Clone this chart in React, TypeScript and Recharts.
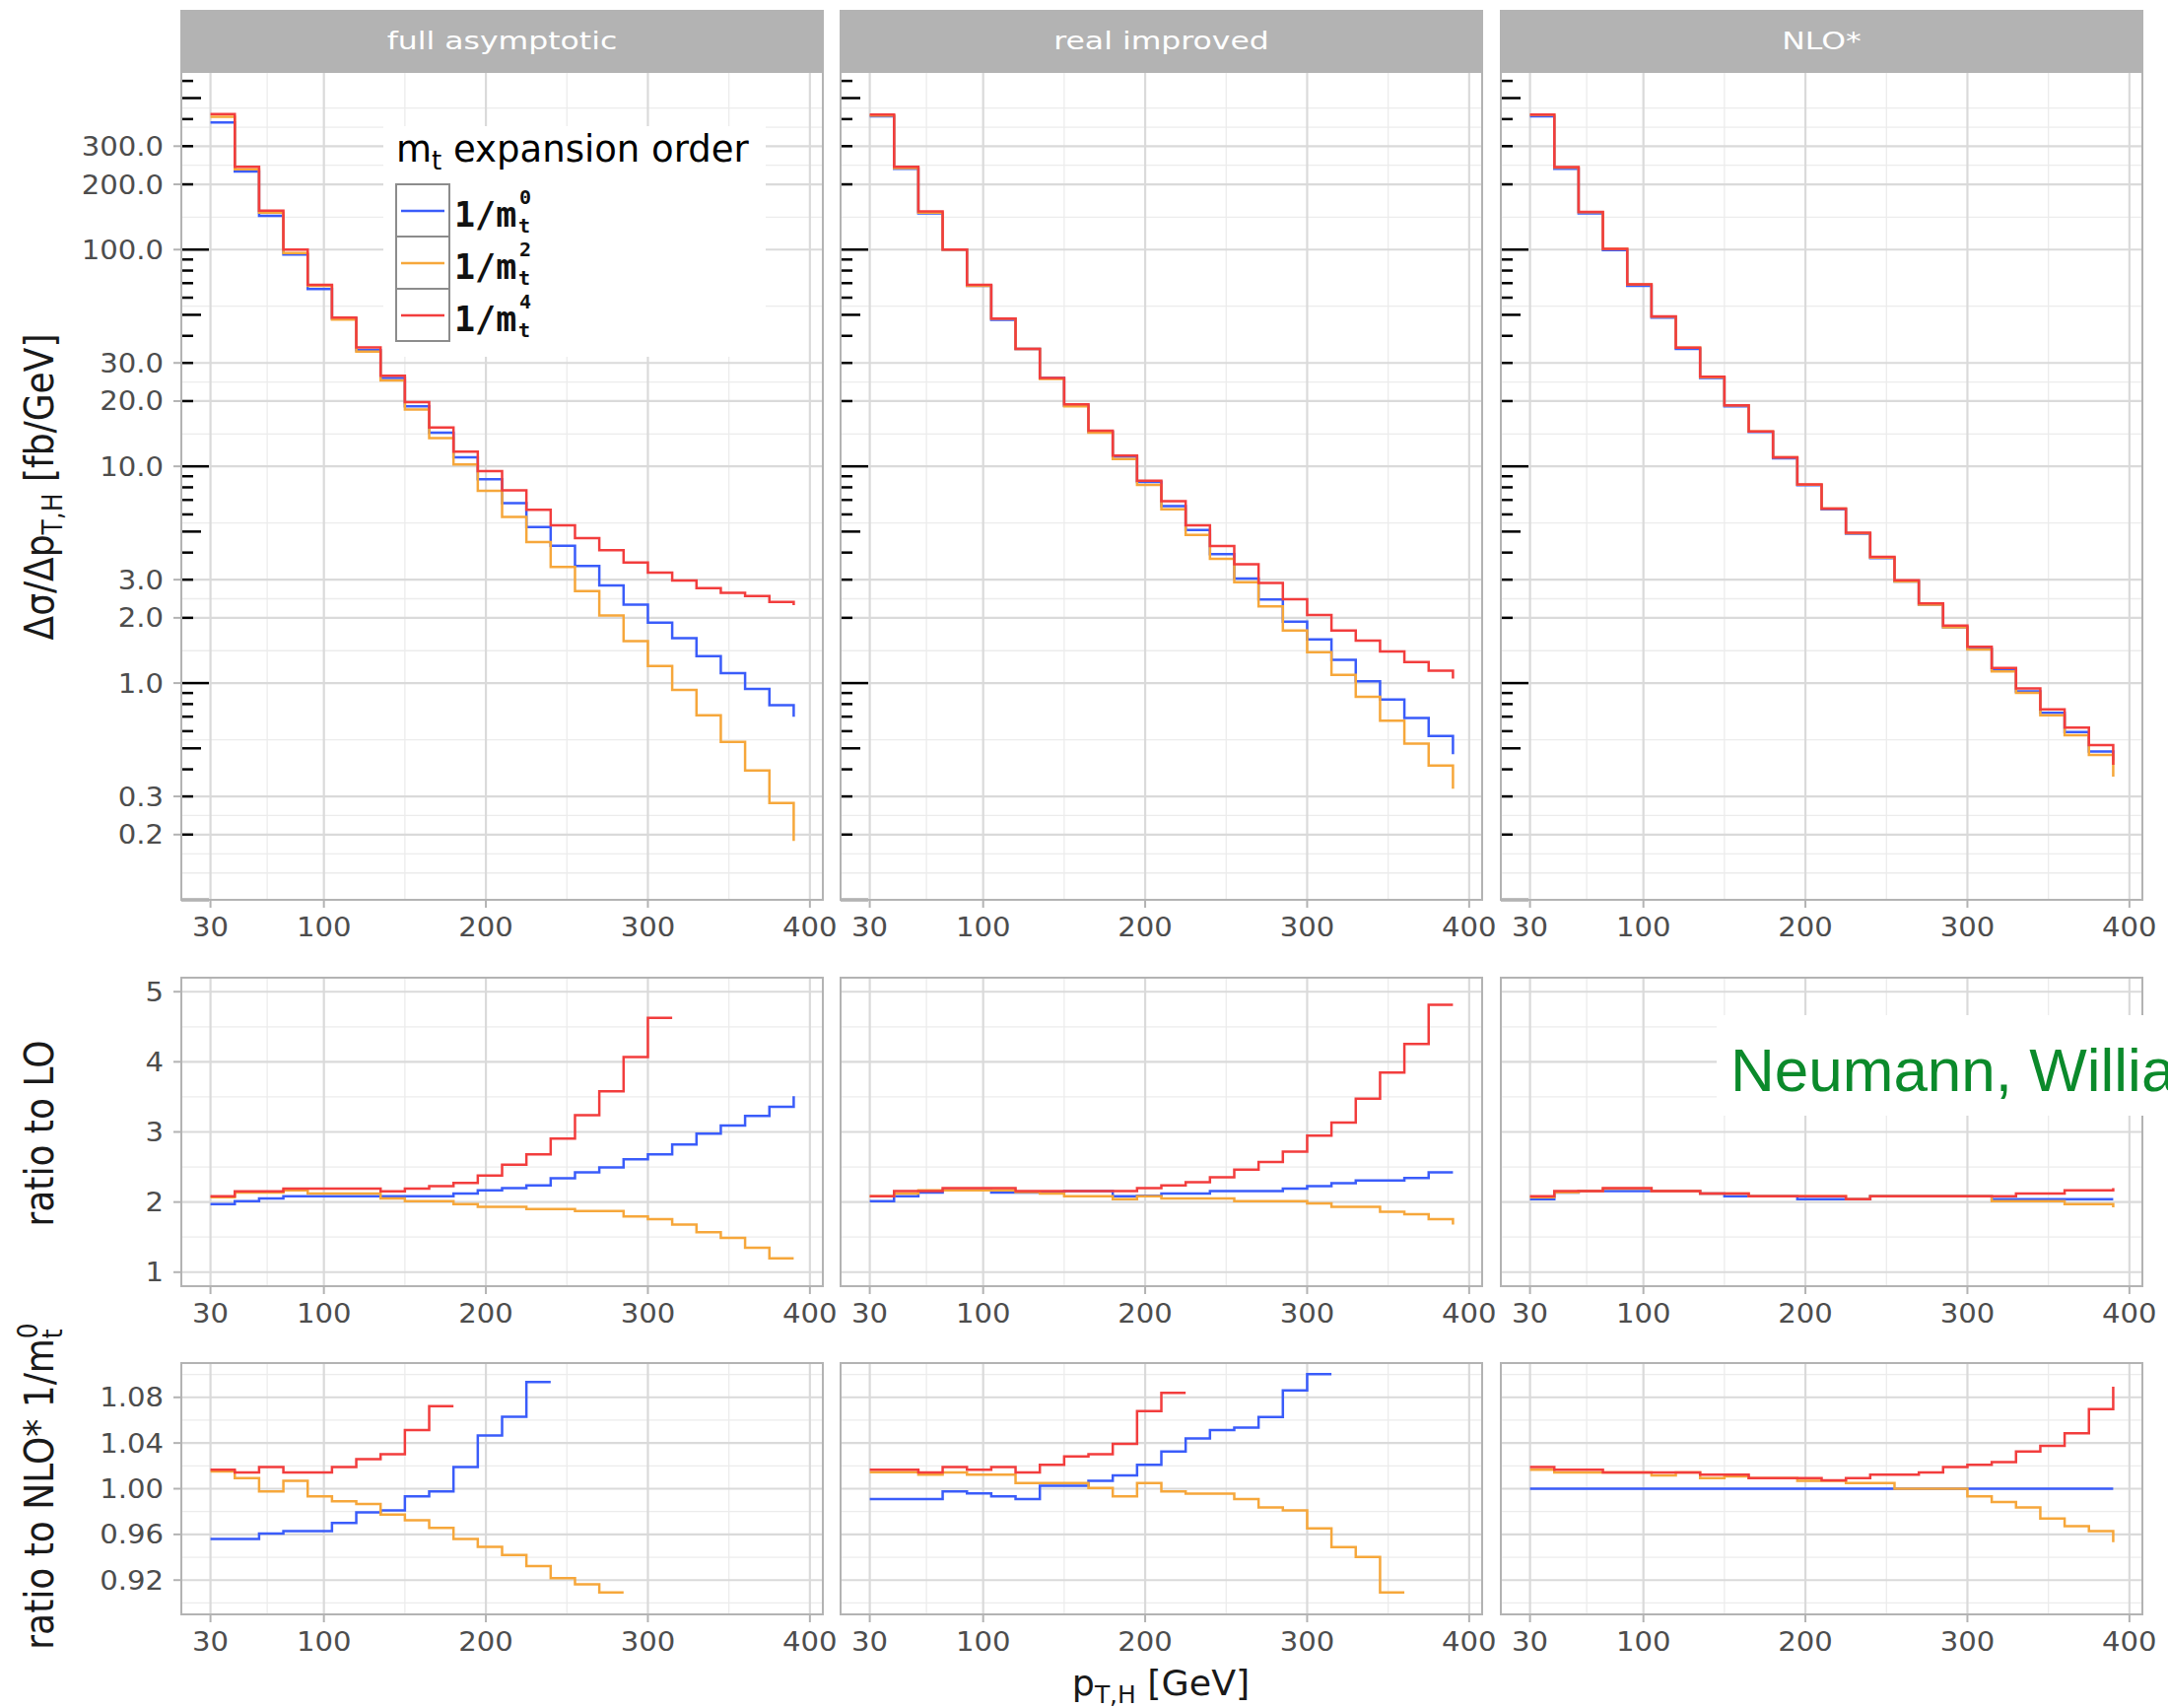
import React from 'react';
import { LineChart, Line, XAxis, YAxis, CartesianGrid } from 'recharts';

// lower bin edges of p_T,H [GeV]
const ptBins = [30, 45, 60, 75, 90, 105, 120, 135, 150, 165, 180, 195, 210, 225, 240, 255, 270, 285, 300, 315, 330, 345, 360, 375, 390];

const facetNames = ['full asymptotic', 'real improved', 'NLO*'];
const seriesKeys = ['m0', 'm2', 'm4'];
const seriesOrders = ['0', '2', '4'];
const seriesColors: Record<string, string> = { m0: '#3a5cfa', m2: '#f6a73b', m4: '#f23d3d' };

// dσ/dp_T,H [fb/GeV]
const fullM0 = [386, 229, 143, 95, 65.7, 48, 34.4, 25.6, 18.9, 14.3, 11.0, 8.73, 6.77, 5.25, 4.3, 3.47, 2.82, 2.3, 1.9, 1.61, 1.33, 1.11, 0.94, 0.79, 0.7];
const fullM2 = [410, 235, 148, 96.5, 68, 47.5, 33.8, 24.9, 18.3, 13.5, 10.2, 7.7, 5.84, 4.47, 3.43, 2.66, 2.05, 1.56, 1.2, 0.93, 0.71, 0.535, 0.395, 0.28, 0.187];
const fullM4 = [422, 241, 151, 100, 68.8, 48.5, 35.4, 26.2, 19.8, 15.1, 11.7, 9.5, 7.75, 6.3, 5.35, 4.67, 4.1, 3.6, 3.23, 2.97, 2.74, 2.61, 2.52, 2.37, 2.29];
const realM0 = [412, 236, 147, 100, 68, 47.4, 34.8, 25.6, 19, 14.4, 11.1, 8.47, 6.56, 5.09, 3.93, 3.04, 2.43, 1.92, 1.59, 1.28, 1.02, 0.84, 0.69, 0.57, 0.47];
const realM2 = [415, 238, 148, 100, 68, 48, 34.8, 25.3, 18.9, 14.3, 10.8, 8.22, 6.34, 4.83, 3.74, 2.92, 2.26, 1.75, 1.39, 1.09, 0.865, 0.67, 0.526, 0.416, 0.326];
const realM4 = [420, 241, 150, 100, 68.8, 48, 34.8, 25.6, 19.3, 14.6, 11.2, 8.58, 6.9, 5.35, 4.29, 3.53, 2.9, 2.44, 2.06, 1.75, 1.57, 1.4, 1.25, 1.14, 1.05];
const nloM0 = [412, 236, 147, 99.5, 68.1, 48.5, 34.8, 25.6, 18.9, 14.4, 10.9, 8.18, 6.34, 4.89, 3.77, 2.94, 2.3, 1.81, 1.44, 1.146, 0.916, 0.73, 0.594, 0.484, 0.44];
const nloM2 = [419, 239, 149, 100.9, 69.1, 49.1, 35.3, 25.8, 19.1, 14.5, 11.0, 8.24, 6.38, 4.91, 3.79, 2.94, 2.3, 1.81, 1.43, 1.133, 0.901, 0.711, 0.575, 0.466, 0.37];
const nloM4 = [420, 240, 149.4, 100.9, 69.1, 49.2, 35.3, 25.9, 19.1, 14.5, 11.0, 8.26, 6.39, 4.94, 3.82, 2.98, 2.33, 1.84, 1.47, 1.173, 0.946, 0.757, 0.623, 0.518, 0.42];

// ratio to LO
const loFullM0 = [1.971, 2.013, 2.05, 2.083, 2.083, 2.083, 2.083, 2.083, 2.083, 2.083, 2.12, 2.167, 2.2, 2.237, 2.34, 2.424, 2.494, 2.61, 2.68, 2.82, 2.974, 3.09, 3.23, 3.357, 3.51];
const loFullM2 = [2.07, 2.134, 2.134, 2.167, 2.12, 2.12, 2.12, 2.05, 2.013, 2.013, 1.971, 1.933, 1.933, 1.9, 1.9, 1.873, 1.873, 1.793, 1.756, 1.677, 1.57, 1.49, 1.35, 1.196, 1.196];
const loFullM4 = [2.083, 2.153, 2.153, 2.19, 2.19, 2.19, 2.19, 2.153, 2.19, 2.228, 2.274, 2.377, 2.531, 2.68, 2.904, 3.24, 3.581, 4.067, 4.627, 4.627, null, null, null, null, null];
const loRealM0 = [2.013, 2.083, 2.134, 2.167, 2.167, 2.134, 2.134, 2.134, 2.157, 2.157, 2.083, 2.09, 2.12, 2.12, 2.157, 2.157, 2.157, 2.19, 2.228, 2.27, 2.307, 2.307, 2.344, 2.424, 2.424];
const loRealM2 = [2.083, 2.12, 2.167, 2.167, 2.167, 2.167, 2.143, 2.12, 2.083, 2.083, 2.04, 2.083, 2.05, 2.05, 2.05, 2.013, 2.013, 2.013, 1.98, 1.933, 1.933, 1.863, 1.826, 1.756, 1.68];
const loRealM4 = [2.083, 2.157, 2.157, 2.2, 2.2, 2.2, 2.157, 2.157, 2.157, 2.157, 2.157, 2.2, 2.237, 2.284, 2.354, 2.461, 2.573, 2.718, 2.946, 3.133, 3.474, 3.847, 4.253, 4.813, 4.813];
const loNloM0 = [2.04, 2.134, 2.157, 2.157, 2.157, 2.157, 2.157, 2.12, 2.083, 2.083, 2.083, 2.04, 2.04, 2.04, 2.083, 2.083, 2.083, 2.083, 2.083, 2.04, 2.04, 2.04, 2.04, 2.04, 2.04];
const loNloM2 = [2.07, 2.14, 2.157, 2.19, 2.19, 2.157, 2.157, 2.12, 2.12, 2.083, 2.083, 2.083, 2.083, 2.04, 2.083, 2.083, 2.083, 2.083, 2.083, 2.013, 2.013, 2.013, 1.971, 1.971, 1.924];
const loNloM4 = [2.083, 2.157, 2.157, 2.2, 2.2, 2.157, 2.157, 2.12, 2.12, 2.083, 2.083, 2.083, 2.083, 2.04, 2.083, 2.083, 2.083, 2.083, 2.083, 2.083, 2.12, 2.12, 2.167, 2.167, 2.2];

// ratio to NLO* 1/m_t^0
const rNloFullM0 = [0.9561, 0.9561, 0.9608, 0.9628, 0.9628, 0.9701, 0.9794, 0.9811, 0.9933, 0.9977, 1.0189, 1.0465, 1.063, 1.0935, 1.0935, null, null, null, null, null, null, null, null, null, null];
const rNloFullM2 = [1.0151, 1.0093, 0.9977, 1.007, 0.9933, 0.989, 0.9866, 0.9774, 0.9724, 0.9657, 0.9561, 0.9492, 0.9419, 0.9323, 0.9216, 0.9164, 0.9091, 0.9091, null, null, null, null, null, null, null];
const rNloFullM4 = [1.0166, 1.0142, 1.0189, 1.0142, 1.0142, 1.0189, 1.0258, 1.0302, 1.0514, 1.0723, 1.0723, null, null, null, null, null, null, null, null, null, null, null, null, null, null];
const rNloRealM0 = [0.991, 0.991, 0.991, 0.9977, 0.996, 0.9933, 0.991, 1.0026, 1.0026, 1.007, 1.0116, 1.0209, 1.0325, 1.0441, 1.0514, 1.0534, 1.0627, 1.086, 1.1002, 1.1002, null, null, null, null, null];
const rNloRealM2 = [1.0145, 1.0145, 1.0122, 1.0142, 1.0122, 1.0122, 1.0049, 1.0049, 1.0049, 1.0006, 0.9933, 1.0049, 0.9977, 0.9956, 0.9956, 0.991, 0.9837, 0.9811, 0.9652, 0.9489, 0.9402, 0.9091, 0.9091, null, null];
const rNloRealM4 = [1.0166, 1.0166, 1.0142, 1.0189, 1.0166, 1.0189, 1.0142, 1.0209, 1.0282, 1.0302, 1.0392, 1.068, 1.0839, 1.0839, null, null, null, null, null, null, null, null, null, null, null];
const rNloNloM0 = [1, 1, 1, 1, 1, 1, 1, 1, 1, 1, 1, 1, 1, 1, 1, 1, 1, 1, 1, 1, 1, 1, 1, 1, 1];
const rNloNloM2 = [1.0166, 1.0142, 1.0142, 1.0142, 1.0142, 1.0116, 1.0142, 1.0093, 1.0107, 1.0093, 1.0093, 1.007, 1.007, 1.0049, 1.0049, 1.0, 1.0, 1.0, 0.9933, 0.9884, 0.9837, 0.9739, 0.9672, 0.9628, 0.9532];
const rNloNloM4 = [1.0189, 1.0166, 1.0166, 1.0142, 1.0142, 1.0142, 1.0142, 1.0122, 1.0122, 1.0093, 1.0093, 1.0093, 1.0073, 1.0093, 1.0122, 1.0122, 1.0142, 1.0189, 1.0209, 1.0232, 1.0325, 1.0375, 1.0485, 1.0697, 1.0892];

// axis breaks
const xBreaks = [30, 100, 200, 300, 400];
const xMinor = [65, 150, 250, 350];
const xsecTicks = [0.2, 0.3, 1, 2, 3, 10, 20, 30, 100, 200, 300];
const xsecMinor = [0.133, 0.163, 0.245, 0.548, 1.41, 2.45, 5.48, 14.1, 24.5, 54.8, 141, 245, 367, 450];
const loTicks = [1, 2, 3, 4, 5];
const loMinor = [1.5, 2.5, 3.5, 4.5];
const nloTicks = [0.92, 0.96, 1.0, 1.04, 1.08];
const nloMinor = [0.9, 0.94, 0.98, 1.02, 1.06, 1.1];
const logTickVals = [0.1, 0.2, 0.3, 0.4, 0.5, 0.6, 0.7, 0.8, 0.9, 1, 2, 3, 4, 5, 6, 7, 8, 9, 10, 20, 30, 40, 50, 60, 70, 80, 90, 100, 200, 300, 400, 500, 600];

const FONT = "'DejaVu Sans', sans-serif";
const MONO = "'DejaVu Sans Mono', monospace";
const colX = [184, 853, 1523];
const panelW = 651;
const yAxisW = 184;
const xAxisH = 60;
const rightPad = 40;

const rows = [
  {
    top: 73, h: 840, scale: 'log', domain: [0.1, 660], ticks: xsecTicks, minor: xsecMinor,
    fmt: (v: number) => v.toFixed(1), logTicks: true,
    series: [[fullM0, fullM2, fullM4], [realM0, realM2, realM4], [nloM0, nloM2, nloM4]],
  },
  {
    top: 992, h: 313, scale: 'linear', domain: [0.8, 5.2], ticks: loTicks, minor: loMinor,
    fmt: (v: number) => String(v), logTicks: false,
    series: [[loFullM0, loFullM2, loFullM4], [loRealM0, loRealM2, loRealM4], [loNloM0, loNloM2, loNloM4]],
  },
  {
    top: 1383, h: 255, scale: 'linear', domain: [0.89, 1.11], ticks: nloTicks, minor: nloMinor,
    fmt: (v: number) => v.toFixed(2), logTicks: false,
    series: [[rNloFullM0, rNloFullM2, rNloFullM4], [rNloRealM0, rNloRealM2, rNloRealM4], [rNloNloM0, rNloNloM2, rNloNloM4]],
  },
];

const XTick = (props: any) => {
  const { x, y, payload } = props;
  return (
    <g transform={`translate(${x},${y}) scale(1.12,1)`}>
      <text x={0} y={0} dy={19} textAnchor="middle" fontSize={26} fill="#4d4d4d" fontFamily={FONT}>
        {payload.value}
      </text>
    </g>
  );
};

const YTick = (props: any) => {
  const { x, y, payload, fmt } = props;
  return (
    <g transform={`translate(${x},${y}) scale(1.12,1)`}>
      <text x={0} y={0} dy={9.5} textAnchor="end" fontSize={26} fill="#4d4d4d" fontFamily={FONT}>
        {fmt(payload.value)}
      </text>
    </g>
  );
};

// annotation_logticks style marks: long at decades, medium at 5s
const LogTick = (props: any) => {
  const { x, y, payload } = props;
  const v = payload.value;
  const lead = Math.round(v / Math.pow(10, Math.floor(Math.log10(v) + 1e-9)));
  const len = lead === 1 ? 28 : lead === 5 ? 20 : 12;
  return <line x1={x} x2={x + len} y1={y} y2={y} stroke="#000" strokeWidth={2.5} />;
};

const Panel = ({ row, col }: { row: number; col: number }) => {
  const cfg = rows[row];
  const [s0, s2, s4] = cfg.series[col];
  const data = ptBins.map((x, i) => ({ x, m0: s0[i], m2: s2[i], m4: s4[i] }));
  const left = col === 0 ? colX[0] - yAxisW : colX[col];
  const width = panelW + rightPad + (col === 0 ? yAxisW : 0);
  return (
    <div style={{ position: 'absolute', left, top: cfg.top }}>
      <LineChart width={width} height={cfg.h + xAxisH} data={data} margin={{ top: 0, right: rightPad, bottom: 0, left: 0 }}>
        <CartesianGrid horizontalValues={cfg.minor} verticalValues={xMinor} stroke="#ececec" strokeWidth={1.3} />
        <CartesianGrid horizontalValues={cfg.ticks} verticalValues={xBreaks} stroke="#dadada" strokeWidth={2.2} />
        <XAxis
          dataKey="x" type="number" domain={[12, 408]} ticks={xBreaks} interval={0} allowDataOverflow
          height={xAxisH} tickSize={8} tickMargin={10} axisLine={false}
          tickLine={{ stroke: '#b3b3b3', strokeWidth: 2 }} tick={(p: any) => <XTick {...p} />}
        />
        <YAxis
          type="number" scale={cfg.scale as any} domain={cfg.domain} ticks={cfg.ticks} interval={0} allowDataOverflow
          hide={col !== 0} width={yAxisW} tickSize={8} tickMargin={10} axisLine={false}
          tickLine={{ stroke: '#b3b3b3', strokeWidth: 2 }} tick={(p: any) => <YTick {...p} fmt={cfg.fmt} />}
        />
        {cfg.logTicks && (
          <YAxis
            yAxisId="lt" orientation="left" mirror type="number" scale="log" domain={cfg.domain}
            ticks={logTickVals} interval={0} allowDataOverflow axisLine={false} tickLine={false}
            tickSize={0} tickMargin={0} tick={(p: any) => <LogTick {...p} />}
          />
        )}
        {seriesKeys.map((k) => (
          <Line
            key={k} dataKey={k} type="stepAfter" stroke={seriesColors[k]} strokeWidth={2.5}
            dot={false} activeDot={false} isAnimationActive={false} connectNulls={false}
          />
        ))}
      </LineChart>
    </div>
  );
};

const Overlay = () => (
  <svg width={2200} height={1733} style={{ position: 'absolute', left: 0, top: 0, zIndex: 5, pointerEvents: 'none' }} fontFamily={FONT}>
    {/* panel borders */}
    {rows.map((r, ri) =>
      colX.map((x, ci) => (
        <rect key={`b${ri}${ci}`} x={x} y={r.top} width={panelW} height={r.h} fill="none" stroke="#b3b3b3" strokeWidth={2} />
      ))
    )}
    {/* facet strips */}
    {colX.map((x, i) => (
      <g key={`s${i}`}>
        <rect x={x - 1} y={10} width={panelW + 2} height={63} fill="#b3b3b3" />
        <g transform={`translate(${x + panelW / 2},50) scale(1.26,1)`}>
          <text textAnchor="middle" fontSize={25} fill="#ffffff">{facetNames[i]}</text>
        </g>
      </g>
    ))}

    {/* legend */}
    <rect x={389} y={128} width={388} height={234} fill="#ffffff" />
    <text x={402} y={164} fontSize={37} fill="#000">
      m<tspan fontSize={26} dy={8}>t</tspan><tspan dy={-8}> expansion order</tspan>
    </text>
    {seriesKeys.map((k, i) => {
      const cy = 214 + i * 53;
      return (
        <g key={`l${k}`}>
          <rect x={402} y={cy - 27} width={54} height={53} fill="#fff" stroke="#8c8c8c" strokeWidth={2} />
          <line x1={407} x2={451} y1={cy} y2={cy} stroke={seriesColors[k]} strokeWidth={2.5} />
          <text x={461} y={cy + 16} fontSize={35} fontWeight="bold" fontFamily={MONO} fill="#111">1/m</text>
          <text x={527} y={cy - 7} fontSize={20} fontWeight="bold" fontFamily={MONO} fill="#111">{seriesOrders[i]}</text>
          <text x={526} y={cy + 22} fontSize={20} fontWeight="bold" fontFamily={MONO} fill="#111">t</text>
        </g>
      );
    })}

    {/* axis titles */}
    <text transform="translate(54,494) rotate(-90) scale(1,1.14)" textAnchor="middle" fontSize={36} fill="#1a1a1a">
      Δσ/Δp<tspan fontSize={25} dy={8}>T,H</tspan><tspan dy={-8}> [fb/GeV]</tspan>
    </text>
    <text transform="translate(54,1150) rotate(-90) scale(1,1.14)" textAnchor="middle" fontSize={36} fill="#1a1a1a">
      ratio to LO
    </text>
    <text transform="translate(54,1508) rotate(-90) scale(1,1.14)" textAnchor="middle" fontSize={36} fill="#1a1a1a">
      ratio to NLO* 1/m<tspan fontSize={25} dy={8}>t</tspan><tspan fontSize={25} dx={-9.8} dy={-22}>0</tspan>
    </text>
    <g transform="translate(1178,1720) scale(1.04,1)">
      <text textAnchor="middle" fontSize={35} fill="#1a1a1a">
        p<tspan fontSize={24} dy={8}>T,H</tspan><tspan dy={-8}> [GeV]</tspan>
      </text>
    </g>

    {/* slide annotation, cut off at the right edge as in the source */}
    <rect x={1742} y={1030} width={458} height={102} fill="#ffffff" />
    <text x={1756} y={1107} fontSize={62} fontFamily="'Liberation Sans', Arial, sans-serif" fill="#0b8a2b">
      Neumann, Williams
    </text>
  </svg>
);

const App: React.FC = () => {
  return (
    <div style={{ position: 'absolute', left: 0, top: 0, width: 2200, height: 1733, background: '#fff', overflow: 'hidden' }}>
      {rows.map((_, ri) => colX.map((_, ci) => <Panel key={`p${ri}${ci}`} row={ri} col={ci} />))}
      <Overlay />
    </div>
  );
};

export default App;
